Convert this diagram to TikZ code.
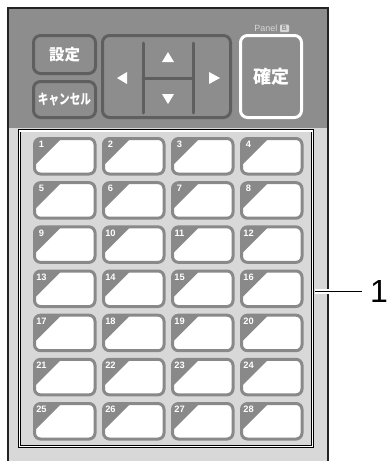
\documentclass[tikz,border=0pt]{standalone}
\usepackage{fontspec}
\usepackage{graphicx}
\setmainfont{Liberation Sans}
\newfontfamily\cjk{Noto Sans CJK JP}
\definecolor{topbg}{RGB}{141,141,141}
\definecolor{btnline}{RGB}{95,95,95}
\definecolor{lightbg}{RGB}{216,216,216}
\definecolor{keygray}{RGB}{137,137,137}
\definecolor{panelgray}{RGB}{215,215,215}
\definecolor{framec}{RGB}{35,35,35}
\begin{document}
\begin{tikzpicture}[x=1pt,y=-1pt,
  btn/.style={draw=btnline, line width=3pt, rounded corners=7pt, inner sep=0pt, text=white},
  keybox/.style={draw=keygray, fill=white, line width=3pt, rounded corners=6pt,
    minimum width=60.5pt, minimum height=35.5pt, inner sep=0pt,
    path picture={\fill[keygray] (path picture bounding box.north west) ++(-3,-3) -- ++(33,0) -- ++(-33,33) -- cycle;}},
  keynum/.style={text=white, font=\bfseries\fontsize{9.3}{9.3}\selectfont, inner sep=0pt, anchor=base},
  arrowtri/.style={fill=white},
  padline/.style={draw=btnline, line width=3pt, line cap=round}]
\useasboundingbox (0,0) rectangle (387,461);
\fill[white] (0,0) rectangle (387,461);
% body
\fill[lightbg] (8,8) rectangle (328,461);
\fill[topbg] (8,8) rectangle (328,128);
\draw[framec, line width=1.8pt] (8,461) -- (8,8) -- (328,8) -- (328,461);
% top buttons
\node[btn, minimum width=62pt, minimum height=38pt, font=\cjk\bfseries\fontsize{15.5}{15.5}\selectfont] (settei) at (64.5,54.5) {設定};
\node[btn, minimum width=62pt, minimum height=36pt, font=\cjk\bfseries\fontsize{14}{14}\selectfont] (cancel) at (64.5,99.5) {\scalebox{0.76}[1]{キャンセル}};
\node[btn, minimum width=128pt, minimum height=82pt] (pad) at (166.5,76.5) {};
\node[btn, draw=white, minimum width=61pt, minimum height=82pt, font=\cjk\bfseries\fontsize{18}{18}\selectfont] (kakutei) at (271,76.5) {確定};
\node[font=\fontsize{9}{9}\selectfont, text=panelgray, inner sep=0pt, anchor=base east] (paneltxt) at (277.5,31.5) {Panel};
\node[fill=panelgray, text=topbg, rounded corners=1pt, inner sep=0pt, minimum width=9pt, minimum height=7.5pt, font=\bfseries\fontsize{7}{7}\selectfont] (panelb) at (284.5,28.3) {B};
% pad lines
\draw[padline] (143,43) -- (143,113);
\draw[padline] (193,43) -- (193,113);
\draw[padline] (143,78.5) -- (193,78.5);
% arrows
\fill[arrowtri] (162,62) -- (174,62) -- (168,52) -- cycle;
\fill[arrowtri] (162,94) -- (174,94) -- (168,104) -- cycle;
\fill[arrowtri] (117,78) -- (127,72) -- (127,84) -- cycle;
\fill[arrowtri] (220,78) -- (209,72) -- (209,84) -- cycle;
% inner panel
\node[draw=black, double=white, double distance=1.2pt, line width=0.9pt, minimum width=293pt, minimum height=315.25pt, inner sep=0pt] (panel) at (166,288.6) {};
% keys
\foreach \r in {0,...,6} {
  \foreach \c in {0,...,3} {
    \pgfmathtruncatemacro{\n}{4*\r+\c+1}
    \pgfmathsetmacro{\kx}{33+69*\c}
    \pgfmathsetmacro{\ky}{137+44.17*\r}
    \node[keybox] (k\n) at (\kx+31.75,\ky+19.25) {};
    \node[keynum] (n\n) at (\kx+8.5,\ky+10.8) {\n};
  }
}
% leader and label
\coordinate (ls) at (314.5,291);
\coordinate (le) at (362,291);
\draw[white, line width=5pt] (ls) -- (le);
\draw[black, line width=1pt] (ls) -- (le);
\node[font=\fontsize{32}{32}\selectfont, inner sep=0pt, anchor=base west] (lbl) at (370,302) {1};
\end{tikzpicture}
\end{document}
